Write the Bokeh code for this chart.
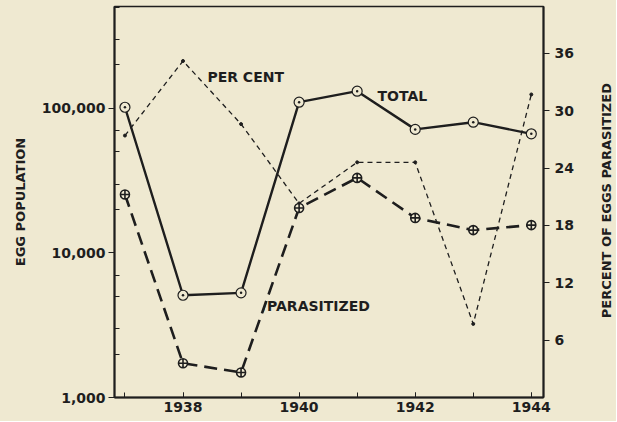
import math
from bokeh.plotting import figure
from bokeh.layouts import row
from bokeh.models import Range1d, LinearAxis, LinearScale, FixedTicker, NumeralTickFormatter, ColumnDataSource
from bokeh.core.properties import value
from bokeh.embed import file_html
from bokeh.resources import INLINE

years = [1937, 1938, 1939, 1940, 1941, 1942, 1943, 1944]
total_eggs = [102000, 5100, 5300, 110600, 131800, 71700, 80400, 66800]
parasitized_eggs = [25400, 1725, 1490, 20500, 33100, 17500, 14400, 15600]
percent_parasitized = [27.4, 35.2, 28.6, 20.3, 24.6, 24.6, 7.7, 31.7]

x_tick_years = [1938, 1940, 1942, 1944]
left_ticks = [1000, 10000, 100000]
right_ticks = [6, 12, 18, 24, 30, 36]

# annotation labels (text, x in years, y in percent scale)
label_texts = ["PER CENT", "TOTAL", "/PARASITIZED"]
label_x = [1938.42, 1941.35, 1939.36]
label_y = [33.5, 31.5, 9.6]
right_title = "PERCENT OF EGGS PARASITIZED"

BG = "#efe9d1"
INK = "#1e1e1e"
FONT = "DejaVu Sans"

X0, X1 = 1936.82, 1944.21
P0, P1 = 0, 40.9
H = 421

src = ColumnDataSource(dict(year=years, total=total_eggs, para=parasitized_eggs, pct=percent_parasitized))

p = figure(width=596, height=H,
           x_range=Range1d(X0, X1),
           y_range=Range1d(1000, 508000),
           y_axis_type="log",
           output_backend="svg", toolbar_location=None,
           min_border_left=114, min_border_right=53,
           min_border_top=6, min_border_bottom=24)
p.background_fill_color = BG
p.border_fill_color = BG
p.outline_line_color = INK
p.outline_line_width = 1.5
p.xgrid.visible = False
p.ygrid.visible = False

p.extra_y_ranges = {"pct": Range1d(P0, P1)}
p.extra_y_scales = {"pct": LinearScale()}

# x axis
xa = p.xaxis[0]
xa.ticker = FixedTicker(ticks=x_tick_years, minor_ticks=years)
xa.major_tick_in = 5
xa.major_tick_out = 0
xa.minor_tick_in = 5
xa.minor_tick_out = 0
xa.axis_line_width = 2
xa.axis_line_color = INK
xa.major_tick_line_color = INK
xa.minor_tick_line_color = INK
xa.major_label_text_font = FONT
xa.major_label_text_font_style = "bold"
xa.major_label_text_font_size = "14px"
xa.major_label_text_color = INK
xa.major_label_standoff = 4

# left axis
minor_left = [m * d for d in (1000, 10000, 100000) for m in (2, 3, 5, 7) if m * d < 508000]
ya = p.yaxis[0]
ya.ticker = FixedTicker(ticks=left_ticks, minor_ticks=minor_left)
ya.formatter = NumeralTickFormatter(format="0,0")
ya.major_tick_in = 0
ya.major_tick_out = 6
ya.minor_tick_in = 5
ya.minor_tick_out = 0
ya.axis_line_width = 2
ya.axis_line_color = INK
ya.major_tick_line_color = INK
ya.minor_tick_line_color = INK
ya.major_label_text_font = FONT
ya.major_label_text_font_style = "bold"
ya.major_label_text_font_size = "14px"
ya.major_label_text_color = INK
ya.major_label_standoff = 3
ya.axis_label = "EGG POPULATION"
ya.axis_label_text_font = FONT
ya.axis_label_text_font_style = "bold"
ya.axis_label_text_font_size = "13px"
ya.axis_label_text_color = INK
ya.axis_label_standoff = 11

# right axis
ra = LinearAxis(y_range_name="pct", ticker=FixedTicker(ticks=right_ticks))
ra.major_tick_in = 0
ra.major_tick_out = 6
ra.minor_tick_line_color = None
ra.axis_line_width = 2
ra.axis_line_color = INK
ra.major_tick_line_color = INK
ra.major_label_text_font = FONT
ra.major_label_text_font_style = "bold"
ra.major_label_text_font_size = "14px"
ra.major_label_text_color = INK
ra.major_label_standoff = 5
p.add_layout(ra, "right")

# percent (thin dashed) line
p.line("year", "pct", source=src, y_range_name="pct", line_color=INK, line_width=1.3, line_dash="5 4")
p.scatter("year", "pct", source=src, y_range_name="pct", size=3, color=INK)

# parasitized (long dash)
p.line("year", "para", source=src, line_color=INK, line_width=2.6, line_dash="13 7")
p.scatter("year", "para", source=src, marker="circle_cross", size=9, line_color=INK, line_width=1.6, fill_color=BG)

# total (solid)
p.line("year", "total", source=src, line_color=INK, line_width=2.4)
p.scatter("year", "total", source=src, marker="circle_dot", size=10, line_color=INK, line_width=1.2, fill_color=BG)

lab = ColumnDataSource(dict(x=label_x, y=label_y, t=label_texts))
p.text("x", "y", text="t", source=lab, y_range_name="pct", text_font=value(FONT), text_font_style="bold",
       text_font_size="14px", text_color=INK, text_baseline="middle", text_align="left")

# narrow strip holding the right-hand title, reading bottom to top
p2 = figure(width=20, height=H, x_range=Range1d(0, 1), y_range=Range1d(0, H),
            x_axis_location=None, y_axis_location=None,
            output_backend="svg", toolbar_location=None,
            min_border=0)
p2.background_fill_color = BG
p2.border_fill_color = BG
p2.outline_line_color = None
p2.xgrid.visible = False
p2.ygrid.visible = False
p2.text(x=[0.5], y=[H - 209], text=[right_title], angle=math.pi / 2,
        text_font=value(FONT), text_font_style="bold", text_font_size="13px",
        text_color=INK, text_align="center", text_baseline="middle")

layout = row(p, p2, spacing=0, styles={"background-color": BG})
open("out.html", "w").write(file_html(layout, INLINE))
